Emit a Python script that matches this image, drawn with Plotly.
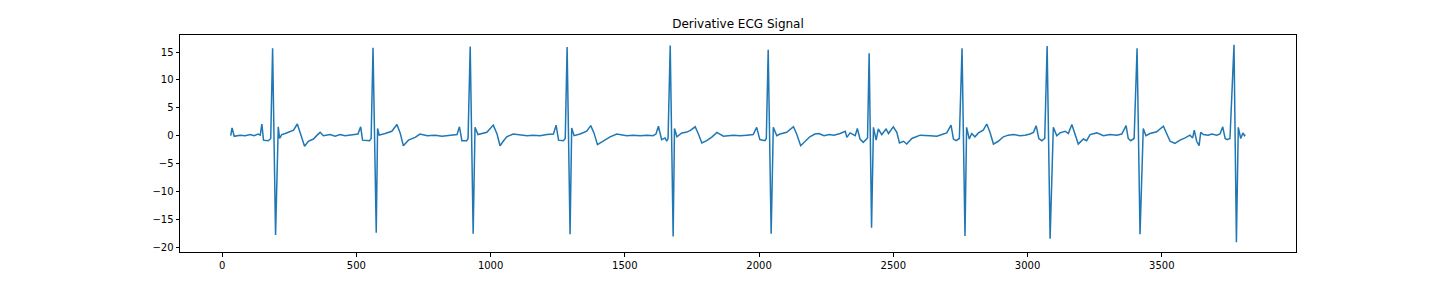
import plotly.graph_objects as go

# Digitized vertices of the derivative ECG trace (sample index, amplitude)
sample_idx = [
    32, 37, 45, 67, 86, 104, 119, 134, 142, 148, 154, 172, 181, 188, 199, 209, 214, 222, 235, 253,
    266, 280, 290, 307, 321, 340, 354, 365, 377, 402, 421, 439, 458, 477, 495,
    506, 516, 523, 549, 555, 562, 574, 579, 585, 607, 632, 651, 663, 675, 694, 719, 737, 764, 793,
    819, 849, 875,
    884, 893, 911, 916, 924, 935, 942, 953, 986, 1010, 1024, 1035, 1047, 1060, 1084, 1110, 1136,
    1158, 1184, 1210, 1234,
    1244, 1253, 1271, 1278, 1285, 1296, 1302, 1311, 1333, 1358, 1373, 1385, 1398, 1420, 1445, 1470,
    1507, 1531, 1557, 1583, 1605, 1616,
    1625, 1637, 1650, 1656, 1661, 1669, 1680, 1685, 1694, 1712, 1728, 1743, 1762, 1774, 1787, 1805,
    1825, 1843, 1867, 1904, 1929, 1955, 1978,
    1991, 2003, 2022, 2027, 2034, 2045, 2053, 2066, 2078, 2103, 2128, 2140, 2155, 2168, 2189, 2208,
    2223, 2242, 2261, 2279, 2302, 2321, 2327, 2339, 2358,
    2366, 2376, 2388, 2398, 2404, 2410, 2419, 2426, 2436, 2444, 2457, 2473, 2482, 2500, 2513, 2523,
    2538, 2550, 2569, 2585, 2600, 2637, 2662, 2687, 2699,
    2715, 2724, 2734, 2746, 2756, 2767, 2773, 2783, 2792, 2804, 2817, 2835, 2848, 2860, 2873, 2891,
    2910, 2928, 2947, 2972, 2991, 3009, 3022,
    3032, 3042, 3053, 3064, 3073, 3084, 3096, 3109, 3121, 3140, 3152, 3165, 3177, 3189, 3208, 3220,
    3233, 3258, 3283, 3307, 3332, 3351,
    3367, 3375, 3384, 3397, 3408, 3419, 3431, 3441, 3456, 3481, 3506, 3519, 3531, 3549, 3568, 3587,
    3605, 3615, 3621, 3630, 3639, 3645, 3655, 3673, 3686, 3705, 3717,
    3727, 3736, 3744, 3754, 3769, 3778, 3785, 3794, 3802, 3808, 3811,
]
amplitude = [
    0.0, 1.4, -0.1, 0.1, 0.0, 0.2, 0.0, 0.3, 0.1, 2.1, -0.8, -0.9, -0.5, 15.7, -17.8, 1.6, -0.5, 0.2, 0.4, 0.7,
    1.0, 2.1, 0.6, -1.9, -1.0, -0.6, 0.1, 0.6, 0.0, 0.2, -0.1, 0.2, 0.0, 0.1, 0.3,
    0.3, 1.6, -0.8, -0.9, -0.5, 15.8, -17.4, 1.3, 0.1, 0.4, 0.8, 2.0, 0.5, -1.8, -0.8, -0.3, 0.3, 0.0, 0.1,
    -0.1, 0.1, 0.2,
    1.6, -0.9, -0.9, -0.5, 16.0, -17.6, 1.5, 0.2, 0.6, 1.9, 0.3, -1.8, -1.0, -0.2, 0.3, 0.2, 0.0,
    0.1, 0.0, 0.2, 0.3,
    1.9, -0.8, -0.9, -0.5, 15.9, -17.7, 1.4, 0.0, 0.3, 0.8, 1.8, 0.5, -1.6, -1.0, -0.2, 0.3,
    0.0, 0.1, 0.0, 0.1, 0.0, 0.3,
    1.7, -0.7, -0.4, -1.0, -0.5, 16.2, -18.1, 1.3, -0.2, 0.5, 0.6, 0.9, 1.6, 0.3, -1.3, -0.9,
    -0.2, 0.6, -0.1, 0.1, 0.0, 0.1, 0.2,
    1.5, -0.7, -0.9, -0.5, 15.4, -17.6, 1.5, 0.0, 0.3, 0.6, 1.6, 0.3, -1.8, -1.2, -0.2, 0.3,
    0.4, 0.0, 0.2, 0.1, 0.4, 0.8, -0.3, 0.5, 0.0,
    1.3, -0.6, -1.2, -0.8, -0.4, 14.8, -16.5, 1.5, -0.8, 1.2, 0.2, 1.2, 0.4, 1.6, 0.6, -1.3,
    -1.0, -1.5, -0.5, -0.2, 0.1, 0.0, -0.1, 0.3, 0.5,
    1.9, -0.6, -0.9, -0.5, 15.7, -18.0, 1.5, -0.6, 0.4, -0.2, 0.5, 1.0, 2.1, 0.6, -1.5, -1.0,
    -0.2, 0.1, 0.2, 0.0, 0.1, 0.3, 0.6,
    1.8, -0.5, -0.9, -0.5, 16.1, -18.5, 1.5, 0.0, 0.5, 0.8, 0.4, 2.0, 0.3, -1.5, -0.6, -0.9,
    0.2, 0.5, 0.0, 0.2, 0.1, 0.3,
    1.8, -0.5, -0.9, -0.5, 15.7, -17.7, 1.3, 0.0, 0.4, 0.7, 1.7, 0.4, -1.0, -1.4, -0.8, -0.4,
    0.1, -0.4, 1.0, -1.0, -1.8, 0.6, 0.2, 0.1, 0.3, 0.1, 0.3,
    1.6, -0.5, -0.7, -0.5, 16.3, -19.1, 1.5, -0.5, 0.5, 0.0, 0.2,
]

x_ticks = [0, 500, 1000, 1500, 2000, 2500, 3000, 3500]
y_ticks = [-20, -15, -10, -5, 0, 5, 10, 15]
title_text = "Derivative ECG Signal"

xmin, xmax = min(sample_idx), max(sample_idx)
ymin, ymax = min(amplitude), max(amplitude)
xm = 0.05 * (xmax - xmin)
ym = 0.05 * (ymax - ymin)

fig = go.Figure()
fig.add_trace(go.Scatter(
    x=sample_idx, y=amplitude, mode="lines",
    line=dict(color="#1f77b4", width=1.5),
    showlegend=False, hoverinfo="skip",
))

axis_common = dict(
    showgrid=False, zeroline=False, showline=True, linecolor="black", linewidth=1,
    mirror=True, ticks="outside", ticklen=3.5, tickwidth=1, tickcolor="black",
    tickfont=dict(family="DejaVu Sans", size=10, color="black"),
)

fig.update_layout(
    width=1440, height=288,
    margin=dict(l=180, r=144, t=35, b=36),
    paper_bgcolor="white", plot_bgcolor="white",
    title=dict(text=title_text, x=0.5125, xanchor="center", y=1 - 24 / 288, yanchor="middle",
               font=dict(family="DejaVu Sans", size=12, color="black")),
    xaxis=dict(range=[xmin - xm, xmax + xm], tickvals=x_ticks, **axis_common),
    yaxis=dict(range=[ymin - ym, ymax + ym], tickvals=y_ticks, **axis_common),
)

fig.write_html("out.html")
